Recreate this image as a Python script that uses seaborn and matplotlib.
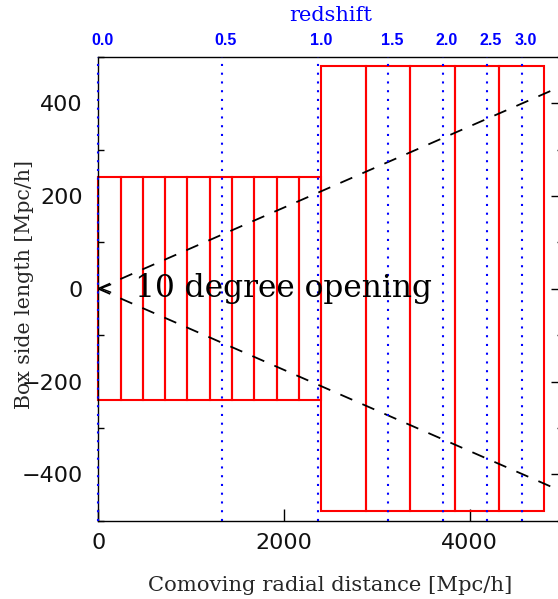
import numpy as np
import pandas as pd
import matplotlib
matplotlib.use("Agg")
import matplotlib.pyplot as plt
import matplotlib.transforms as mtransforms
from matplotlib.patches import Rectangle
from matplotlib.ticker import MultipleLocator, FixedLocator
import seaborn as sns

# Simulation slices along the line of sight: (width, half side length) in Mpc/h
small_slice_widths = [240, 240, 240, 240, 240, 240, 240, 240, 240, 240]
small_slice_half_side = 240
large_slice_widths = [480, 480, 480, 480, 480]
large_slice_half_side = 480

# Light-cone opening angle (degrees)
opening_angle = 10.0

# Redshift markers and their comoving distances [Mpc/h]
redshift_labels = ["0.0", "0.5", "1.0", "1.5", "2.0", "2.5", "3.0"]
redshift_distance = [0, 1332, 2361, 3120, 3712, 4186, 4564]

sns.set_theme(style="white")
plt.rcParams["font.family"] = ["DejaVu Sans"]
plt.rcParams["axes.unicode_minus"] = True

fig = plt.figure(figsize=(5.58, 5.99), dpi=100)
ax = fig.add_axes([0.1762, 0.1307, 0.8319, 0.7746])
ax.set_xlim(0, 5000)
ax.set_ylim(-500, 500)

# Simulation boxes
edges = np.concatenate([[0], np.cumsum(small_slice_widths + large_slice_widths)])
half_sides = [small_slice_half_side] * len(small_slice_widths) + \
             [large_slice_half_side] * len(large_slice_widths)
for x0, x1, h in zip(edges[:-1], edges[1:], half_sides):
    ax.add_patch(Rectangle((x0, -h), x1 - x0, 2 * h, fill=False,
                           edgecolor="#ff0000", linewidth=1.5, zorder=2,
                           clip_on=False))

# Light-cone boundaries
half = np.deg2rad(opening_angle / 2.0)
dist = np.array([0.0, 5000.0])
cone = pd.DataFrame({
    "distance": np.concatenate([dist, dist]),
    "y": np.concatenate([dist * np.tan(half), -dist * np.tan(half)]),
    "edge": ["upper"] * 2 + ["lower"] * 2,
})
sns.lineplot(data=cone, x="distance", y="y", units="edge", estimator=None,
             color="black", linewidth=1.3, ax=ax, zorder=2.5,
             linestyle=(0, (7.2, 6.1)))

# Redshift reference lines
for d in redshift_distance:
    ax.axvline(d, color="blue", linewidth=1.5, linestyle=(0, (1, 3.2)),
               zorder=3, clip_on=False)

ax.text(0, 0, "<", ha="left", va="center", fontsize=12, color="black",
        zorder=4)
ax.text(395, -17, "10 degree opening", ha="left", va="baseline",
        fontsize=22.5, family="DejaVu Serif", color="black", zorder=4)

# Axes styling
for s in ax.spines.values():
    s.set_color("black")
    s.set_linewidth(1.0)
ax.xaxis.set_major_locator(FixedLocator([0, 2000, 4000]))
ax.yaxis.set_major_locator(MultipleLocator(200))
ax.yaxis.set_minor_locator(MultipleLocator(100))
ax.tick_params(axis="both", which="major", direction="in", length=8.5,
               width=1.0, color="black", labelsize=16, top=True, right=True,
               labelcolor="#111111")
ax.tick_params(axis="y", which="minor", direction="in", length=4.3,
               width=1.0, color="black", left=True, right=True)
ax.tick_params(axis="x", pad=9)
ax.tick_params(axis="y", pad=11)

ax.set_xlabel("Comoving radial distance [Mpc/h]", fontsize=15.2,
              family="DejaVu Serif", va="center")
ax.xaxis.set_label_coords(0.5, -0.140)
ax.set_ylabel("Box side length [Mpc/h]", fontsize=14.8,
              family="DejaVu Serif", va="center")
ax.yaxis.set_label_coords(-0.160, 0.51)

# Redshift axis on top
ax2 = ax.twiny()
ax2.set_xlim(ax.get_xlim())
ax2.set_xticks(redshift_distance)
ax2.set_xticklabels(redshift_labels, fontsize=11.5, fontweight="bold",
                    family="Liberation Sans", color="blue")
ax2.tick_params(axis="x", length=0, pad=6.5)
for s in ax2.spines.values():
    s.set_visible(False)
shift = mtransforms.ScaledTranslation(0.04, 0, fig.dpi_scale_trans)
for lbl in ax2.get_xticklabels():
    lbl.set_transform(lbl.get_transform() + shift)
ax.text(0.501, 1.088, "redshift", transform=ax.transAxes, ha="center",
        va="center", fontsize=15, family="DejaVu Serif", color="blue")

fig.savefig("out.png", dpi=100)
